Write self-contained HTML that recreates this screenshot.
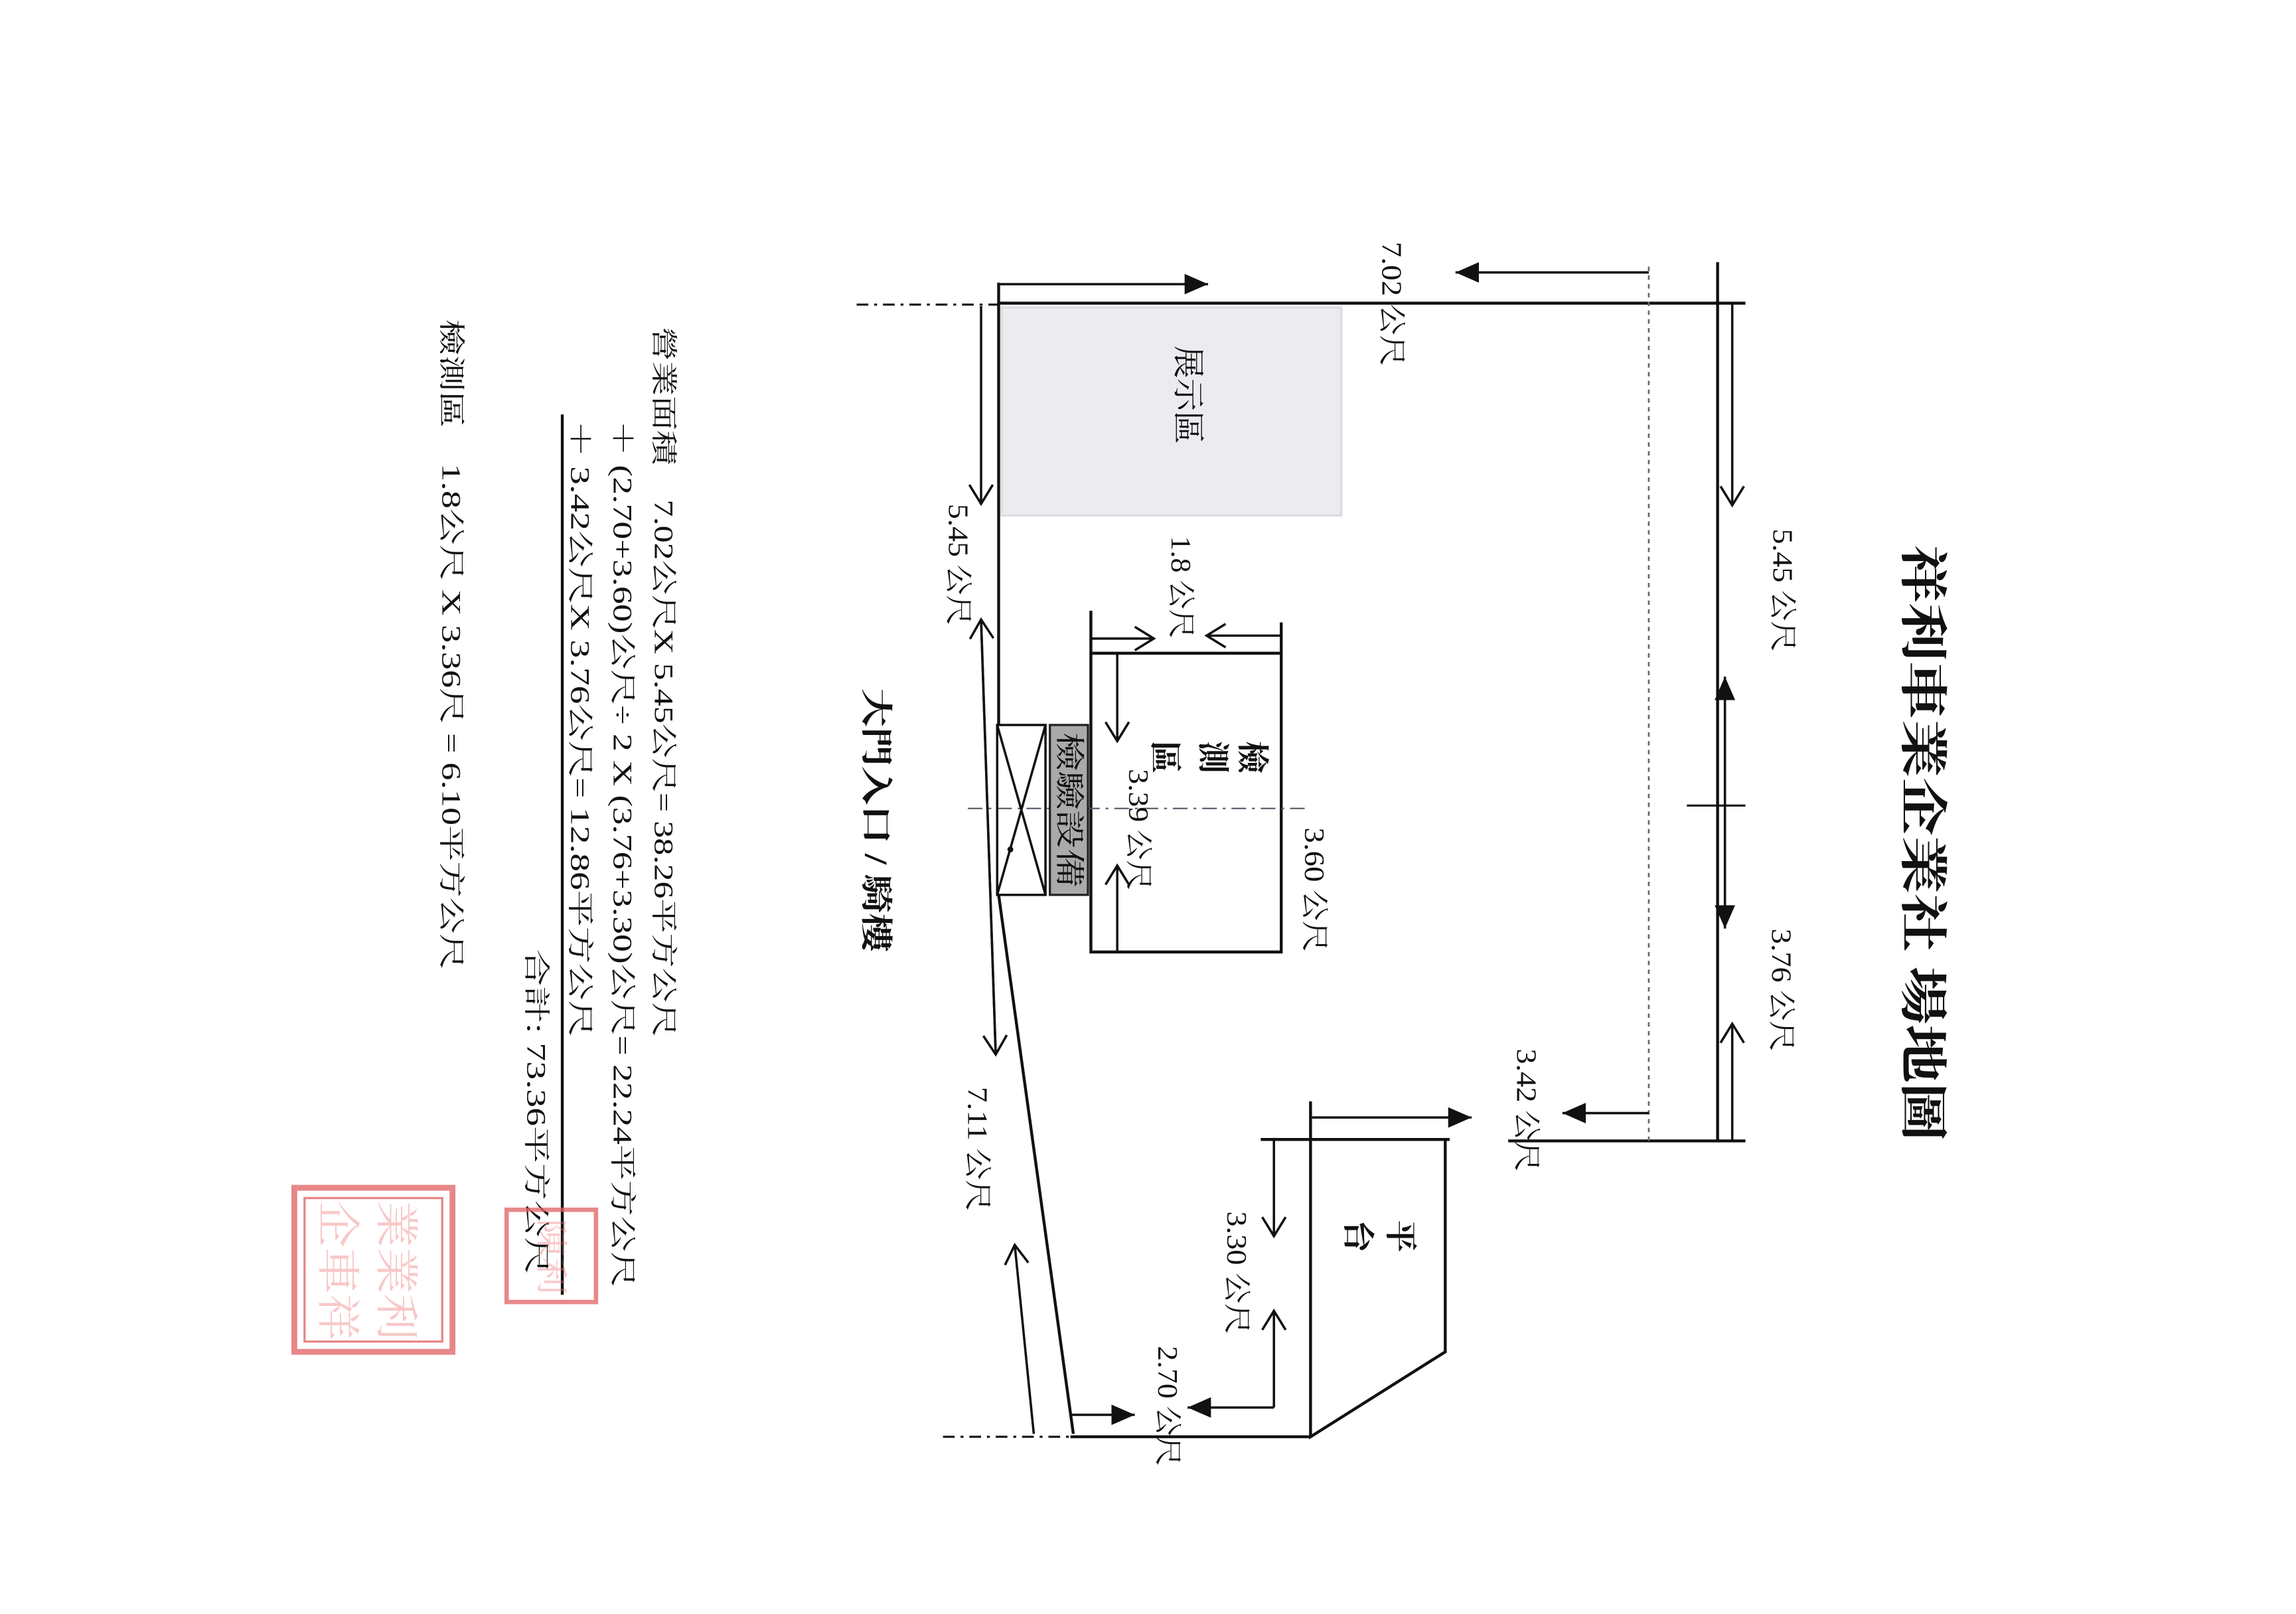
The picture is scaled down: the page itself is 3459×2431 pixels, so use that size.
<!DOCTYPE html>
<html><head><meta charset="utf-8">
<style>
html,body{margin:0;padding:0;background:#fff;}
svg{display:block;}
text{font-family:"Liberation Serif","Noto Serif CJK SC","Noto Sans CJK TC",serif;fill:#111;}
.s{font-family:"Liberation Sans","Noto Sans CJK TC",sans-serif;}
text.st{fill:#e77;}
</style></head>
<body>
<svg width="3459" height="2431" viewBox="0 0 1568 1102" xmlns="http://www.w3.org/2000/svg">
<defs>
<marker id="f" markerUnits="userSpaceOnUse" markerWidth="20" markerHeight="14" refX="16" refY="7" orient="auto"><path d="M0,0 L16,7 L0,14 Z" fill="#111"/></marker>
<marker id="o" markerUnits="userSpaceOnUse" markerWidth="20" markerHeight="20" refX="15" refY="10" orient="auto"><path d="M2,2 L15,10 L2,18" fill="none" stroke="#111" stroke-width="1.6"/></marker>
</defs>
<rect width="1568" height="1102" fill="#fff"/>
<g stroke="#111" stroke-width="2" fill="none">
<line x1="682" y1="207" x2="1192" y2="207"/>
<line x1="585" y1="208" x2="682" y2="208" stroke-width="1.4" stroke-dasharray="8,4,2,4"/>
<line x1="1173" y1="179" x2="1173" y2="779"/>
<line x1="1030" y1="779" x2="1192" y2="779"/>
<line x1="1126" y1="182" x2="1126" y2="779" stroke="#667" stroke-width="1.2" stroke-dasharray="3,3"/>
<line x1="1183" y1="207" x2="1183" y2="345" marker-end="url(#o)" stroke-width="1.6"/>
<line x1="1178" y1="550" x2="1178" y2="462" marker-end="url(#f)" stroke-width="1.6"/>
<line x1="1178" y1="550" x2="1178" y2="634" marker-end="url(#f)" stroke-width="1.6"/>
<line x1="1152" y1="550" x2="1192" y2="550" stroke-width="1.4"/>
<line x1="1183" y1="779" x2="1183" y2="699" marker-end="url(#o)" stroke-width="1.6"/>
<line x1="1126" y1="186" x2="994" y2="186" marker-end="url(#f)" stroke-width="1.6"/>
<line x1="1126" y1="760" x2="1067" y2="760" marker-end="url(#f)" stroke-width="1.6"/>
<line x1="682" y1="193" x2="682" y2="495"/>
<line x1="683" y1="194" x2="825" y2="194" marker-end="url(#f)" stroke-width="1.6"/>
<line x1="670" y1="209" x2="670" y2="344" marker-end="url(#o)" stroke-width="1.6"/>
<line x1="680" y1="720" x2="670" y2="423" marker-end="url(#o)" stroke-width="1.6"/>
<line x1="670" y1="423" x2="680" y2="720" marker-end="url(#o)" stroke-width="1.6"/>
<line x1="682" y1="611" x2="733" y2="979"/>
<line x1="706" y1="979" x2="693" y2="850" marker-end="url(#o)" stroke-width="1.6"/>
<line x1="731" y1="981" x2="895" y2="981"/>
<line x1="644" y1="981" x2="731" y2="981" stroke-width="1.4" stroke-dasharray="8,4,2,4"/>
<line x1="731" y1="966" x2="775" y2="966" marker-end="url(#f)" stroke-width="1.6"/>
<line x1="861" y1="778" x2="990" y2="778"/>
<polyline points="895,752 895,981 987,923 987,778"/>
<line x1="896" y1="763" x2="1005" y2="763" marker-end="url(#f)" stroke-width="1.6"/>
<line x1="870" y1="778" x2="870" y2="844" marker-end="url(#o)" stroke-width="1.6"/>
<line x1="870" y1="961" x2="870" y2="895" marker-end="url(#o)" stroke-width="1.6"/>
<line x1="870" y1="961" x2="811" y2="961" marker-end="url(#f)" stroke-width="1.6"/>
<polyline points="745,417 745,650 875,650 875,425"/>
<line x1="745" y1="446" x2="875" y2="446"/>
<line x1="745" y1="436" x2="788" y2="436" marker-end="url(#o)" stroke-width="1.6"/>
<line x1="875" y1="434" x2="824" y2="434" marker-end="url(#o)" stroke-width="1.6"/>
<line x1="763" y1="446" x2="763" y2="506" marker-end="url(#o)" stroke-width="1.6"/>
<line x1="763" y1="650" x2="763" y2="591" marker-end="url(#o)" stroke-width="1.6"/>
<line x1="661" y1="552" x2="892" y2="552" stroke="#556" stroke-width="1" stroke-dasharray="10,4,2,4"/>
<rect x="681" y="495" width="33" height="116" stroke-width="1.6"/>
<line x1="681" y1="495" x2="714" y2="611" stroke-width="1.6"/>
<line x1="714" y1="495" x2="681" y2="611" stroke-width="1.6"/>
</g>
<circle cx="690" cy="580" r="2" fill="#111"/>
<rect x="684" y="210" width="232" height="142" fill="#ececf0" stroke="#dcdce0" stroke-width="1.5"/>
<rect x="717" y="495" width="26" height="116" fill="#aaa" stroke="#222" stroke-width="1.5"/>

<text x="1316" y="372" transform="rotate(90 1316 372)" dominant-baseline="central" font-size="33" font-weight="bold" textLength="407" lengthAdjust="spacingAndGlyphs" style="font-family:'Noto Serif CJK SC','Noto Sans CJK TC',serif">祥利車業企業社 場地圖</text>

<g font-size="19">
<text x="950" y="165" transform="rotate(90 950 165)" dominant-baseline="central" textLength="85" lengthAdjust="spacingAndGlyphs">7.02 公尺</text>
<text x="1217" y="361" transform="rotate(90 1217 361)" dominant-baseline="central" textLength="84" lengthAdjust="spacingAndGlyphs">5.45 公尺</text>
<text x="1216" y="634" transform="rotate(90 1216 634)" dominant-baseline="central" textLength="84" lengthAdjust="spacingAndGlyphs">3.76 公尺</text>
<text x="1042" y="716" transform="rotate(90 1042 716)" dominant-baseline="central" textLength="84" lengthAdjust="spacingAndGlyphs">3.42 公尺</text>
<text x="654" y="344" transform="rotate(90 654 344)" dominant-baseline="central" textLength="83" lengthAdjust="spacingAndGlyphs">5.45 公尺</text>
<text x="806" y="366" transform="rotate(90 806 366)" dominant-baseline="central" textLength="70" lengthAdjust="spacingAndGlyphs">1.8 公尺</text>
<text x="777" y="525" transform="rotate(90 777 525)" dominant-baseline="central" textLength="83" lengthAdjust="spacingAndGlyphs">3.39 公尺</text>
<text x="897" y="565" transform="rotate(90 897 565)" dominant-baseline="central" textLength="85" lengthAdjust="spacingAndGlyphs">3.60 公尺</text>
<text x="667" y="742" transform="rotate(90 667 742)" dominant-baseline="central" textLength="85" lengthAdjust="spacingAndGlyphs">7.11 公尺</text>
<text x="844" y="827" transform="rotate(90 844 827)" dominant-baseline="central" textLength="84" lengthAdjust="spacingAndGlyphs">3.30 公尺</text>
<text x="797" y="919" transform="rotate(90 797 919)" dominant-baseline="central" textLength="82" lengthAdjust="spacingAndGlyphs">2.70 公尺</text>
</g>
<g font-size="22">
<text x="811" y="236" transform="rotate(90 811 236)" dominant-baseline="central" textLength="67" lengthAdjust="spacingAndGlyphs">展示區</text>
<text x="855" y="517" transform="rotate(90 855 517)" dominant-baseline="central" text-anchor="middle" font-weight="bold">檢</text>
<text x="828" y="517" transform="rotate(90 828 517)" dominant-baseline="central" text-anchor="middle" font-weight="bold">測</text>
<text x="795" y="517" transform="rotate(90 795 517)" dominant-baseline="central" text-anchor="middle" font-weight="bold">區</text>
<text x="956" y="844" transform="rotate(90 956 844)" dominant-baseline="central" text-anchor="middle" font-weight="bold">平</text>
<text x="927" y="844" transform="rotate(90 927 844)" dominant-baseline="central" text-anchor="middle" font-weight="bold">台</text>
</g>
<text x="730" y="500" transform="rotate(90 730 500)" dominant-baseline="central" font-size="20" textLength="106" lengthAdjust="spacingAndGlyphs">檢驗設備</text>
<text x="598" y="470" transform="rotate(90 598 470)" dominant-baseline="central" font-size="22" font-weight="bold" textLength="180" lengthAdjust="spacingAndGlyphs">大門入口 / 騎樓</text>

<g font-size="18" class="s">
<text x="453" y="223" transform="rotate(90 453 223)" dominant-baseline="central" textLength="485" lengthAdjust="spacingAndGlyphs">營業面積　7.02公尺X 5.45公尺= 38.26平方公尺</text>
<text x="425" y="287" transform="rotate(90 425 287)" dominant-baseline="central" textLength="592" lengthAdjust="spacingAndGlyphs">＋ (2.70+3.60)公尺÷ 2 X (3.76+3.30)公尺= 22.24平方公尺</text>
<text x="396" y="287" transform="rotate(90 396 287)" dominant-baseline="central" textLength="421" lengthAdjust="spacingAndGlyphs">＋ 3.42公尺X 3.76公尺= 12.86平方公尺</text>
<text x="366" y="648" transform="rotate(90 366 648)" dominant-baseline="central" textLength="222" lengthAdjust="spacingAndGlyphs">合計:  73.36平方公尺</text>
<text x="308" y="218" transform="rotate(90 308 218)" dominant-baseline="central" textLength="444" lengthAdjust="spacingAndGlyphs">檢測區　1.8公尺 X 3.36尺 = 6.10平方公尺</text>
</g>
<line x1="384" y1="283" x2="384" y2="884" stroke="#111" stroke-width="2"/>

<g fill="none" stroke="#e06060" opacity="0.75">
<rect x="201" y="811" width="108" height="112" stroke-width="4"/>
<rect x="208" y="818" width="94" height="98" stroke-width="1.5"/>
<rect x="346" y="826" width="61" height="63" stroke-width="3"/>
</g>
<g opacity="0.4" font-size="30">
<text class="st" x="230" y="820" transform="rotate(90 230 820)" dominant-baseline="central" textLength="95" lengthAdjust="spacingAndGlyphs" style="fill:#e77">企車祥</text>
<text class="st" x="270" y="820" transform="rotate(90 270 820)" dominant-baseline="central" textLength="95" lengthAdjust="spacingAndGlyphs" style="fill:#e77">業業利</text>
<text class="st" x="376" y="832" transform="rotate(90 376 832)" dominant-baseline="central" font-size="22" textLength="52" lengthAdjust="spacingAndGlyphs" style="fill:#e77">陳利</text>
</g>
</svg>
</body></html>
